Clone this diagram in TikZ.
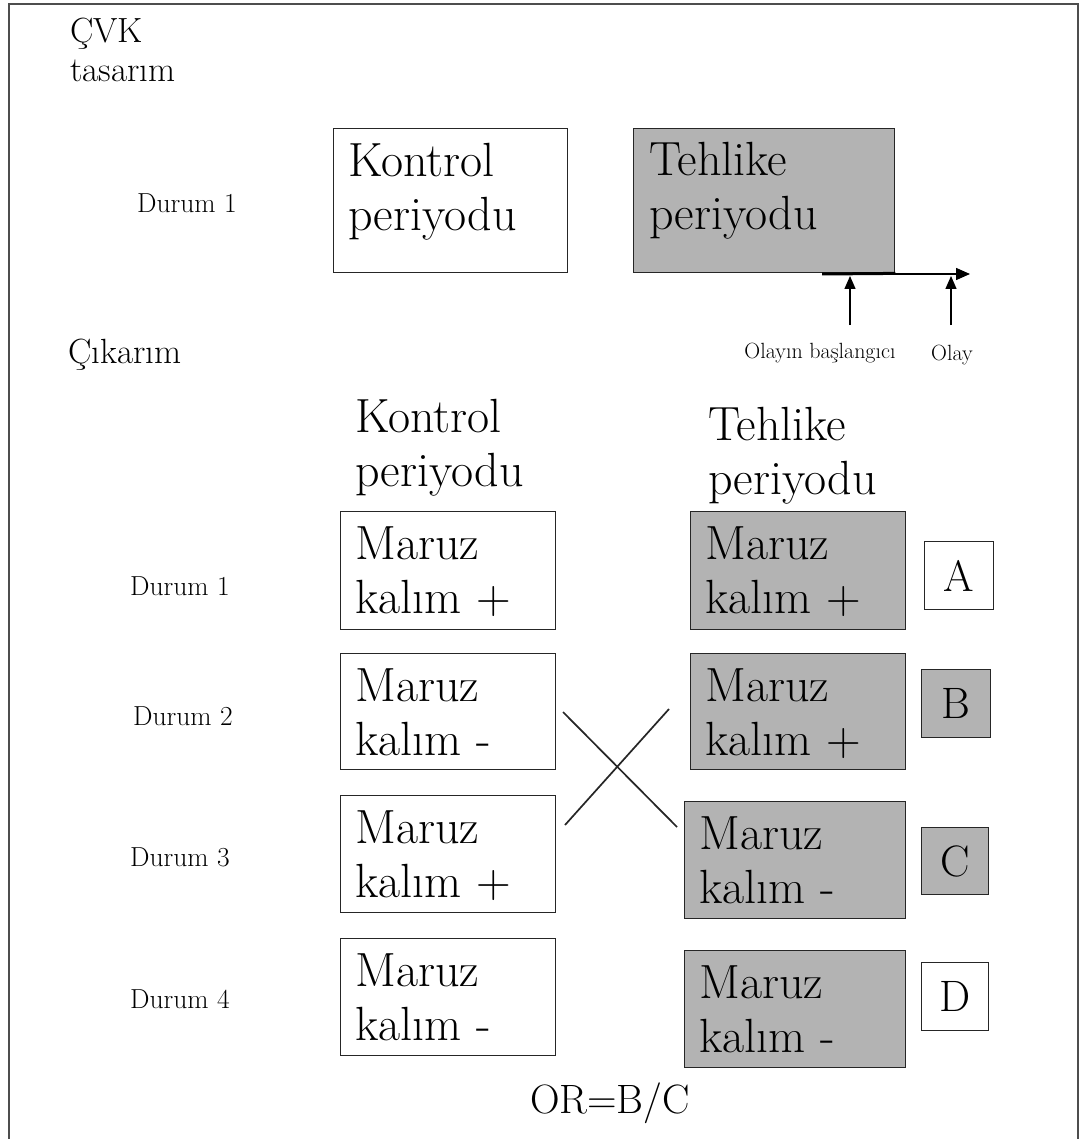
\documentclass[tikz,border=0pt]{standalone}
\usetikzlibrary{arrows.meta,calc}
\definecolor{boxgray}{HTML}{B3B3B3}
\definecolor{framegray}{HTML}{4D4D4D}
\definecolor{edgegray}{HTML}{262626}
\begin{document}
\begin{tikzpicture}[x=1pt,y=-1pt,
  box/.style={draw=edgegray, line width=1.4pt, inner sep=0pt, anchor=north west},
  wbox/.style={box, fill=white},
  gbox/.style={box, fill=boxgray},
  bigtext/.style={font=\fontsize{48}{54}\selectfont, align=left, inner sep=0pt, anchor=base west},
  lettertext/.style={font=\fontsize{44}{50}\selectfont, inner sep=0pt},
  titletext/.style={font=\fontsize{35}{39}\selectfont, align=left, inner sep=0pt, anchor=base west},
  durumtext/.style={font=\fontsize{27.5}{30}\selectfont, inner sep=0pt, anchor=base west},
  smalltext/.style={font=\fontsize{22}{26}\selectfont, inner sep=0pt, anchor=base},
  uparrow/.style={line width=1.4pt, -{Triangle[length=13pt,width=11pt]}},
  crossline/.style={line width=1.7pt, black!85}
]
\useasboundingbox (0,0) rectangle (1091,1139);
\fill[white] (0,0) rectangle (1091,1139);
% frame
\draw[framegray, line width=2.5pt] (9,1139) -- (9,4) -- (1078,4) -- (1078,1139);

% ---- top part (anchor = baseline of the last line)
\node[titletext] (cvk) at (70,82) {ÇVK\\tasarım};
\node[durumtext] (d0) at (137,213) {Durum 1};

\node[wbox, minimum width=234pt, minimum height=144pt] (kp) at (333,128) {};
\node[bigtext] (kpt) at ($(kp.north west)+(15,103)$) {Kontrol\\periyodu};
\node[gbox, minimum width=261pt, minimum height=144pt] (tp) at (633,128) {};
\node[bigtext] (tpt) at ($(tp.north west)+(16,102)$) {Tehlike\\periyodu};

% time axis
\coordinate (axs) at (822,274);
\coordinate (axe) at (970,274);
\draw[line width=1.4pt, -{Triangle[length=14pt,width=12pt]}] (axs) -- (axe);
\draw[line width=3pt] (axs) -- (tp.south east);

\node[smalltext] (ob) at (820,358) {Olayın başlangıcı};
\node[smalltext] (ol) at (952,360) {Olay};
\coordinate (obt) at (850,276);
\coordinate (olt) at (951,276);
\coordinate (obs) at (850,325);
\coordinate (ols) at (951,325);
\draw[uparrow] (obs) -- (obt);
\draw[uparrow] (ols) -- (olt);

% ---- lower part
\node[titletext] (cik) at (68,363) {Çıkarım};
\node[bigtext] (kh) at (355,486) {Kontrol\\periyodu};
\node[bigtext] (th) at (708,494) {Tehlike\\periyodu};

\node[durumtext] (d1) at (130,595) {Durum 1};
\node[durumtext] (d2) at (133,725) {Durum 2};
\node[durumtext] (d3) at (130,866) {Durum 3};
\node[durumtext] (d4) at (130,1008) {Durum 4};

% left column
\node[wbox, minimum width=215pt, minimum height=118pt] (l1) at (340,511) {};
\node[wbox, minimum width=215pt, minimum height=116pt] (l2) at (340,653) {};
\node[wbox, minimum width=215pt, minimum height=117pt] (l3) at (340,795) {};
\node[wbox, minimum width=215pt, minimum height=117pt] (l4) at (340,938) {};
\node[bigtext] at ($(l1.north west)+(15,102)$) {Maruz\\kalım +};
\node[bigtext] at ($(l2.north west)+(15,102)$) {Maruz\\kalım -};
\node[bigtext] at ($(l3.north west)+(15,102)$) {Maruz\\kalım +};
\node[bigtext] at ($(l4.north west)+(15,102)$) {Maruz\\kalım -};

% right column
\node[gbox, minimum width=215pt, minimum height=118pt] (r1) at (690,511) {};
\node[gbox, minimum width=215pt, minimum height=116pt] (r2) at (690,653) {};
\node[gbox, minimum width=221pt, minimum height=117pt] (r3) at (684,801) {};
\node[gbox, minimum width=221pt, minimum height=117pt] (r4) at (684,950) {};
\node[bigtext] at ($(r1.north west)+(15,102)$) {Maruz\\kalım +};
\node[bigtext] at ($(r2.north west)+(15,102)$) {Maruz\\kalım +};
\node[bigtext] at ($(r3.north west)+(15,102)$) {Maruz\\kalım -};
\node[bigtext] at ($(r4.north west)+(15,102)$) {Maruz\\kalım -};

% letter boxes
\node[wbox, minimum width=69pt, minimum height=68pt] (A) at (924,541) {};
\node[gbox, minimum width=69pt, minimum height=68pt] (B) at (921,669) {};
\node[gbox, minimum width=67pt, minimum height=67pt] (C) at (921,827) {};
\node[wbox, minimum width=67pt, minimum height=68pt] (D) at (921,962) {};
\node[lettertext] at (A.center) {A};
\node[lettertext] at (B.center) {B};
\node[lettertext] at (C.center) {C};
\node[lettertext] at (D.center) {D};

% cross
\coordinate (x1a) at (563,712);
\coordinate (x1b) at (677,827);
\coordinate (x2a) at (565,825);
\coordinate (x2b) at (669,709);
\draw[crossline] (x1a) -- (x1b);
\draw[crossline] (x2a) -- (x2b);

\node[font=\fontsize{41}{50}\selectfont, inner sep=0pt, anchor=base] (or) at (610,1113) {OR=B/C};
\end{tikzpicture}
\end{document}
